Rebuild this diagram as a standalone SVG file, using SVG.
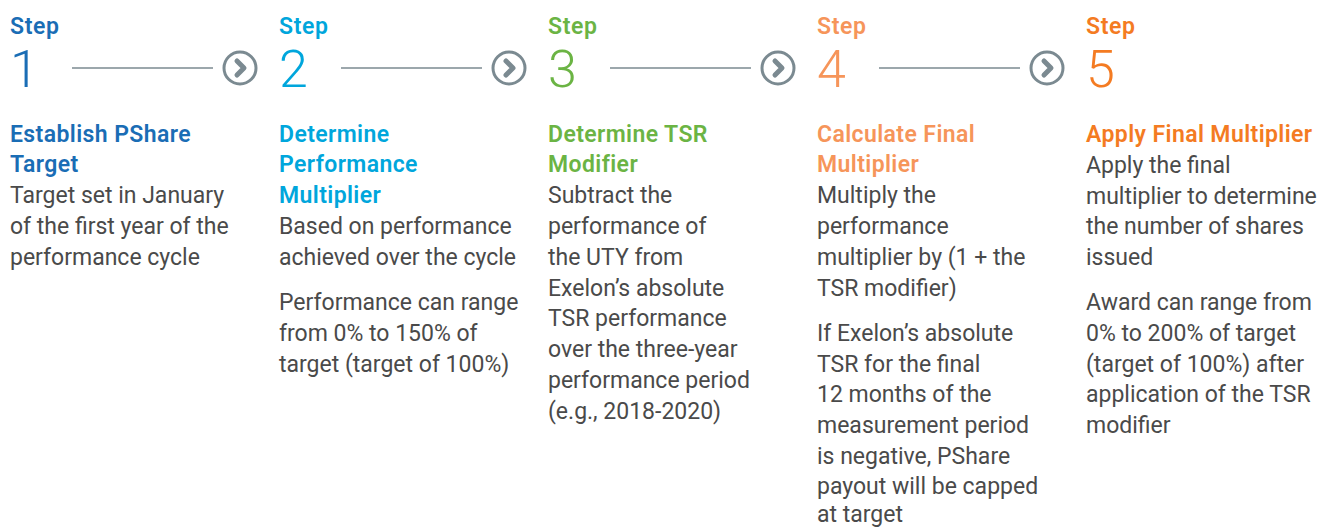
<svg xmlns="http://www.w3.org/2000/svg" width="1325" height="528" viewBox="0 0 1325 528">
<style>
text{font-family:Roboto,"Liberation Sans",sans-serif}
.step{font-size:23px;font-weight:600;letter-spacing:0.6px}
.num{font-size:52px;font-weight:300}
.ttl{font-size:23px;font-weight:600;letter-spacing:0.4px}
.body{font-size:23px;fill:#4a4a4a}
.c1{fill:#1a6db5}.c2{fill:#00a6dc}.c3{fill:#6bb444}.c4{fill:#f6955a}.c5{fill:#f47b22}
.ln{stroke:#7b8a91;stroke-width:1.5;fill:none}
.circ{stroke:#7b8a91;stroke-width:3;fill:none}
.chev{stroke:#7b8a91;stroke-width:5;fill:none;stroke-linecap:round;stroke-linejoin:round}
</style>
<defs>
<g id="arrowc"><circle class="circ" r="16"/><path class="chev" d="M-3,-7 L4,0 L-3,7"/></g>
</defs>
<g id="connectors">
<line class="ln" x1="72" y1="68" x2="213" y2="68"/><use href="#arrowc" x="240" y="68"/>
<line class="ln" x1="341" y1="68" x2="482" y2="68"/><use href="#arrowc" x="509" y="68"/>
<line class="ln" x1="610" y1="68" x2="751" y2="68"/><use href="#arrowc" x="778" y="68"/>
<line class="ln" x1="879" y1="68" x2="1020" y2="68"/><use href="#arrowc" x="1047" y="68"/>
</g>
<g id="step1">
<text class="step c1" x="10" y="34">Step</text>
<text class="num c1" x="10" y="87">1</text>
<text class="ttl c1" x="10" y="142">Establish PShare</text>
<text class="ttl c1" x="10" y="172">Target</text>
<text class="body" x="10" y="203">Target set in January</text>
<text class="body" x="10" y="234">of the first year of the</text>
<text class="body" x="10" y="265">performance cycle</text>
</g>
<g id="step2">
<text class="step c2" x="279" y="34">Step</text>
<text class="num c2" x="279" y="87">2</text>
<text class="ttl c2" x="279" y="142">Determine</text>
<text class="ttl c2" x="279" y="172">Performance</text>
<text class="ttl c2" x="279" y="203">Multiplier</text>
<text class="body" x="279" y="234">Based on performance</text>
<text class="body" x="279" y="265">achieved over the cycle</text>
<text class="body" x="279" y="310">Performance can range</text>
<text class="body" x="279" y="341">from 0% to 150% of</text>
<text class="body" x="279" y="372">target (target of 100%)</text>
</g>
<g id="step3">
<text class="step c3" x="548" y="34">Step</text>
<text class="num c3" x="548" y="87">3</text>
<text class="ttl c3" x="548" y="142">Determine TSR</text>
<text class="ttl c3" x="548" y="172">Modifier</text>
<text class="body" x="548" y="203">Subtract the</text>
<text class="body" x="548" y="234">performance of</text>
<text class="body" x="548" y="265">the UTY from</text>
<text class="body" x="548" y="296">Exelon’s absolute</text>
<text class="body" x="548" y="326">TSR performance</text>
<text class="body" x="548" y="357">over the three-year</text>
<text class="body" x="548" y="388">performance period</text>
<text class="body" x="548" y="419">(e.g., 2018-2020)</text>
</g>
<g id="step4">
<text class="step c4" x="817" y="34">Step</text>
<text class="num c4" x="817" y="87">4</text>
<text class="ttl c4" x="817" y="142">Calculate Final</text>
<text class="ttl c4" x="817" y="172">Multiplier</text>
<text class="body" x="817" y="203">Multiply the</text>
<text class="body" x="817" y="234">performance</text>
<text class="body" x="817" y="265">multiplier by (1 + the</text>
<text class="body" x="817" y="296">TSR modifier)</text>
<text class="body" x="817" y="341">If Exelon’s absolute</text>
<text class="body" x="817" y="372">TSR for the final</text>
<text class="body" x="817" y="402">12 months of the</text>
<text class="body" x="817" y="433">measurement period</text>
<text class="body" x="817" y="464">is negative, PShare</text>
<text class="body" x="817" y="494">payout will be capped</text>
<text class="body" x="817" y="522">at target</text>
</g>
<g id="step5">
<text class="step c5" x="1086" y="34">Step</text>
<text class="num c5" x="1086" y="87">5</text>
<text class="ttl c5" x="1086" y="142">Apply Final Multiplier</text>
<text class="body" x="1086" y="173">Apply the final</text>
<text class="body" x="1086" y="204">multiplier to determine</text>
<text class="body" x="1086" y="234">the number of shares</text>
<text class="body" x="1086" y="265">issued</text>
<text class="body" x="1086" y="310">Award can range from</text>
<text class="body" x="1086" y="341">0% to 200% of target</text>
<text class="body" x="1086" y="372">(target of 100%) after</text>
<text class="body" x="1086" y="402">application of the TSR</text>
<text class="body" x="1086" y="433">modifier</text>
</g>
</svg>
